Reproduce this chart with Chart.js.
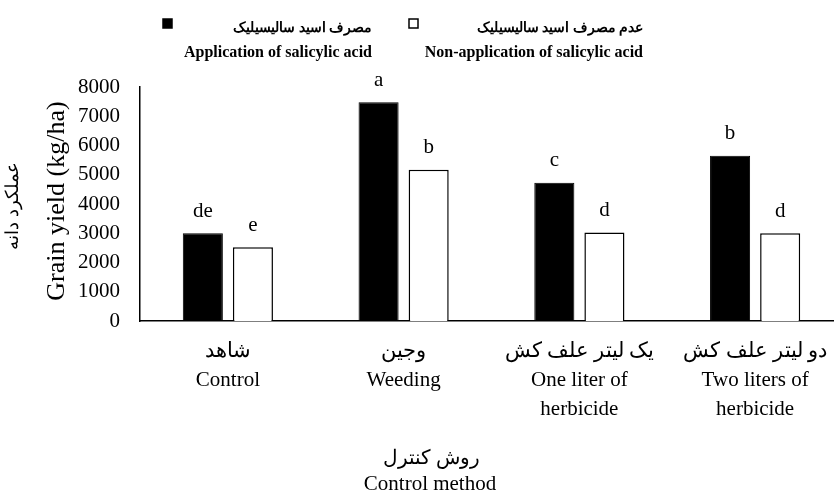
<!DOCTYPE html>
<html>
<head>
<meta charset="utf-8">
<script src="https://cdn.jsdelivr.net/npm/chart.js@4"></script>
<style>
  html, body { margin: 0; padding: 0; background: #fff; overflow: hidden; }
</style>
</head>
<body>
<canvas id="bars" width="843" height="496"></canvas>
<script>
// categories: persian + english lines
const methods = [
  ['شاهد', 'Control'],
  ['وجین', 'Weeding'],
  ['یک لیتر علف کش', 'One liter of', 'herbicide'],
  ['دو لیتر علف کش', 'Two liters of', 'herbicide']
];
const applied = [3000, 7480, 4730, 5650];
const notApplied = [2520, 5170, 3030, 3000];
const lettersApplied = ['de', 'a', 'c', 'b'];
const lettersNot = ['e', 'b', 'd', 'd'];
const seriesFa = ['مصرف اسید سالیسیلیک', 'عدم مصرف اسید سالیسیلیک'];
const seriesEn = ['Application of salicylic acid', 'Non-application of salicylic acid'];
const yTitleFa = 'عملکرد دانه';
const yTitleEn = 'Grain yield (kg/ha)';
const xTitleFa = 'روش کنترل';
const xTitleEn = 'Control method';
const yTicks = [0, 1000, 2000, 3000, 4000, 5000, 6000, 7000, 8000];

const serif = "'Liberation Serif', 'Times New Roman', serif";

// letters above the bars
const letterPlugin = {
  id: 'letters',
  afterDatasetsDraw(chart) {
    const ctx = chart.ctx;
    const sets = [lettersApplied, lettersNot];
    ctx.save();
    ctx.font = '21px ' + serif;
    ctx.fillStyle = '#000';
    ctx.textAlign = 'center';
    ctx.textBaseline = 'middle';
    sets.forEach((letters, d) => {
      chart.getDatasetMeta(d).data.forEach((bar, i) => {
        ctx.fillText(letters[i], bar.x, bar.y - 22);
      });
    });
    ctx.restore();
  }
};

// axis titles drawn by hand (two fonts), legend with square + two text lines
const textPlugin = {
  id: 'extraText',
  afterDraw(chart) {
    const ctx = chart.ctx;
    const area = chart.chartArea;
    const midY = (area.top + area.bottom) / 2;
    ctx.save();
    ctx.fillStyle = '#000';
    ctx.textAlign = 'center';
    ctx.textBaseline = 'middle';
    ctx.save();
    ctx.translate(13, midY + 2);
    ctx.rotate(-Math.PI / 2);
    ctx.font = '18px ' + serif;
    ctx.fillText(yTitleFa, 0, 0);
    ctx.restore();
    ctx.save();
    ctx.translate(57, midY - 3);
    ctx.rotate(-Math.PI / 2);
    ctx.font = '26px ' + serif;
    ctx.fillText(yTitleEn, 0, 0);
    ctx.restore();

    ctx.font = '20px ' + serif;
    ctx.fillText(xTitleFa, 431, 459);
    ctx.font = '21px ' + serif;
    ctx.fillText(xTitleEn, 430, 484);

    const boxX = [163, 409];
    const textRight = [372, 643];
    ctx.lineWidth = 1.5;
    ctx.strokeStyle = '#000';
    for (let k = 0; k < 2; k++) {
      ctx.fillStyle = k === 0 ? '#000' : '#fff';
      ctx.fillRect(boxX[k], 19, 9, 9);
      ctx.strokeRect(boxX[k], 19, 9, 9);
      ctx.fillStyle = '#000';
      ctx.textAlign = 'right';
      ctx.font = 'bold 14px ' + serif;
      ctx.fillText(seriesFa[k], textRight[k], 28);
      ctx.font = 'bold 16px ' + serif;
      ctx.fillText(seriesEn[k], textRight[k], 53);
    }
    ctx.restore();
  }
};

new Chart(document.getElementById('bars'), {
  type: 'bar',
  data: {
    labels: methods,
    datasets: [
      {
        label: seriesEn[0],
        data: applied,
        backgroundColor: '#000',
        borderColor: '#000',
        borderWidth: 1
      },
      {
        label: seriesEn[1],
        data: notApplied,
        backgroundColor: '#fff',
        borderColor: '#000',
        borderWidth: 1.5
      }
    ]
  },
  options: {
    responsive: false,
    animation: false,
    events: [],
    categoryPercentage: 0.57,
    barPercentage: 0.8,
    layout: { padding: { top: 87, right: 0, bottom: 56, left: 58 } },
    plugins: {
      legend: { display: false },
      tooltip: { enabled: false }
    },
    scales: {
      x: {
        grid: { display: false, drawTicks: false },
        border: { color: '#000', width: 1.5 },
        ticks: {
          color: '#000',
          padding: 16,
          maxRotation: 0,
          autoSkip: false,
          font: { family: serif, size: 21, lineHeight: 1.38 }
        },
        title: { display: false }
      },
      y: {
        min: 0,
        max: 8000,
        afterBuildTicks(scale) {
          scale.ticks = yTicks.map(v => ({ value: v }));
        },
        grid: { display: false, drawTicks: false },
        border: { color: '#000', width: 1.5 },
        ticks: {
          color: '#000',
          padding: 20,
          font: { family: serif, size: 21 },
          callback: v => String(v)
        },
        title: { display: false }
      }
    }
  },
  plugins: [letterPlugin, textPlugin]
});
</script>
</body>
</html>
